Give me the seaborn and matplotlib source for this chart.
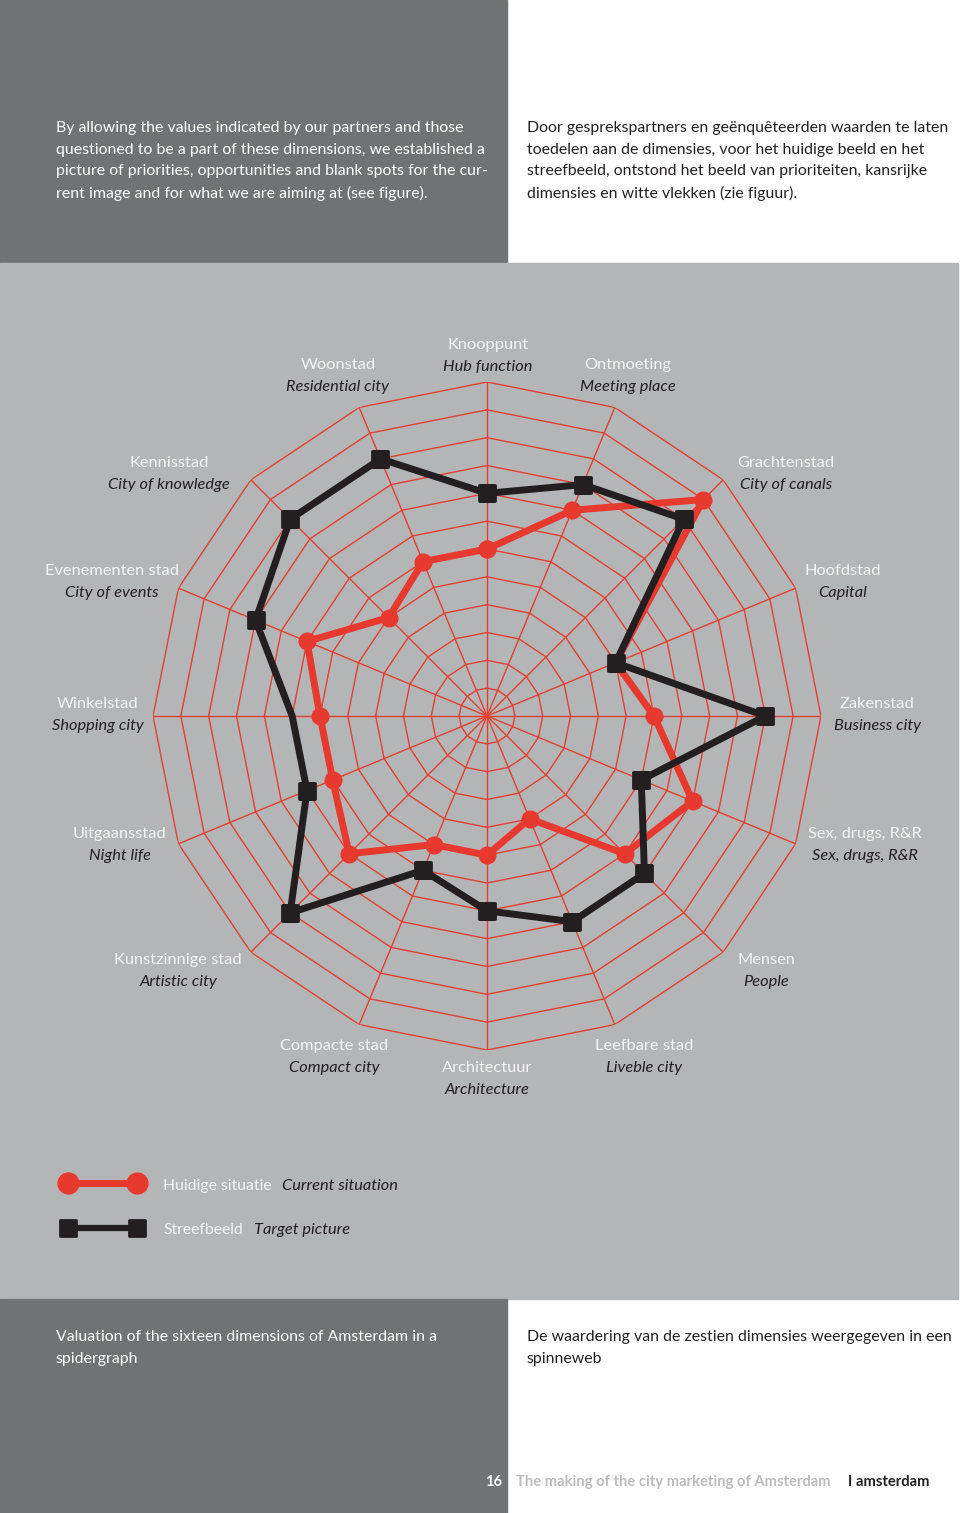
import numpy as np
import pandas as pd
import matplotlib
matplotlib.use('Agg')
import matplotlib.pyplot as plt
from matplotlib.patches import Rectangle
from matplotlib.markers import MarkerStyle
import seaborn as sns

# dimensions, clockwise from the top
dims_nl = ['Knooppunt', 'Ontmoeting', 'Grachtenstad', 'Hoofdstad', 'Zakenstad',
           'Sex, drugs, R&R', 'Mensen', 'Leefbare stad', 'Architectuur',
           'Compacte stad', 'Kunstzinnige stad', 'Uitgaansstad', 'Winkelstad',
           'Evenementen stad', 'Kennisstad', 'Woonstad']
dims_en = ['Hub function', 'Meeting place', 'City of canals', 'Capital',
           'Business city', 'Sex, drugs, R&R', 'People', 'Liveble city',
           'Architecture', 'Compact city', 'Artistic city', 'Night life',
           'Shopping city', 'City of events', 'City of knowledge',
           'Residential city']
current = [6, 8, 11, 5, 6, 8, 7, 4, 5, 5, 7, 6, 6, 7, 5, 6]
target = [8, 9, 10, 5, 10, 6, 8, 8, 7, 6, 10, 7, 7, 9, 10, 10]
n_rings = 12

# label centres in pixels (x, y of first line)
label_pos = [(488, 345), (628, 365), (786, 463), (843, 571), (877, 704),
             (865, 834), (766, 960), (644, 1046), (487, 1068), (334, 1046),
             (178, 960), (120, 834), (98, 704), (112, 571), (169, 463),
             (338, 365)]

intro_en = ['By allowing the values indicated by our partners and those',
            'questioned to be a part of these dimensions, we established a',
            'picture of priorities, opportunities and blank spots for the cur-',
            'rent image and for what we are aiming at (see figure).']
intro_nl = ['Door gesprekspartners en geënquêteerden waarden te laten',
            'toedelen aan de dimensies, voor het huidige beeld en het',
            'streefbeeld, ontstond het beeld van prioriteiten, kansrijke',
            'dimensies en witte vlekken (zie figuur).']
caption_en = ['Valuation of the sixteen dimensions of Amsterdam in a', 'spidergraph']
caption_nl = ['De waardering van de zestien dimensies weergegeven in een', 'spinneweb']

DARK = '#717276'
LIGHT = '#b4b5b7'
RED = '#e8392f'
GRID = '#e2402f'
BLACK = '#231f20'

sns.set_style('white')
plt.rcParams['font.family'] = ['Lato', 'DejaVu Sans']

W, H = 960, 1513
fig = plt.figure(figsize=(W / 100, H / 100), dpi=100)

# page background / text layer in pixel coordinates
bg = fig.add_axes([0, 0, 1, 1])
bg.set_xlim(0, W)
bg.set_ylim(H, 0)
bg.axis('off')
bg.add_patch(Rectangle((0, 0), W, H, color='white', zorder=0))
bg.add_patch(Rectangle((0, 0), 507, 263, color=DARK, zorder=1))
bg.add_patch(Rectangle((0, 263), 958, 1036, color=LIGHT, zorder=1))
bg.add_patch(Rectangle((0, 1299), 507, 214, color=DARK, zorder=1))

body = 11.45
for i, line in enumerate(intro_en):
    bg.text(56, 128 + i * 21.7, line, color='white', fontsize=body,
            va='center', ha='left')
for i, line in enumerate(intro_nl):
    bg.text(527, 128 + i * 21.7, line, color=BLACK, fontsize=body,
            va='center', ha='left')
for i, line in enumerate(caption_en):
    bg.text(56, 1337 + i * 21.7, line, color='white', fontsize=body,
            va='center', ha='left')
for i, line in enumerate(caption_nl):
    bg.text(527, 1337 + i * 21.7, line, color=BLACK, fontsize=body,
            va='center', ha='left')

lab = 11.8
for (x, y), nl, en in zip(label_pos, dims_nl, dims_en):
    bg.text(x, y, nl, color='#f4f4f4', fontsize=lab, ha='center', va='center')
    bg.text(x, y + 22, en, color=BLACK, fontsize=lab, style='italic',
            ha='center', va='center')

# legend
leg = 11.3
bg.plot([68, 137], [1183, 1183], color=RED, lw=5, marker='o', ms=15,
        solid_capstyle='butt', zorder=3)
bg.plot([68, 137], [1228, 1228], color=BLACK, lw=4.5,
        marker=MarkerStyle('s', joinstyle='round'), ms=12, mew=2,
        solid_capstyle='butt', zorder=3)
bg.text(163, 1186, 'Huidige situatie', color='#f4f4f4', fontsize=leg, va='center')
bg.text(282, 1186, 'Current situation', color=BLACK, fontsize=lab,
        style='italic', va='center')
bg.text(163, 1230, 'Streefbeeld', color='#f4f4f4', fontsize=leg, va='center')
bg.text(254, 1230, 'Target picture', color=BLACK, fontsize=lab,
        style='italic', va='center')

# footer
foot = 10.6
bg.text(502, 1482, '16', color='white', fontsize=foot, weight='bold',
        ha='right', va='center')
bg.text(516, 1482, 'The making of the city marketing of Amsterdam',
        color='#bdbdbf', fontsize=foot, weight='bold', ha='left', va='center')
bg.text(848, 1482, 'I amsterdam', color=BLACK, fontsize=foot,
        weight='bold', ha='left', va='center')

# spider chart
cx, cy, rad = 487, 716, 334
ax = fig.add_axes([(cx - rad) / W, 1 - (cy + rad) / H, 2 * rad / W, 2 * rad / H],
                  projection='polar')
ax.set_facecolor('none')
ax.set_theta_zero_location('N')
ax.set_theta_direction(-1)
ax.set_ylim(0, n_rings)
ax.grid(False)
ax.spines['polar'].set_visible(False)

theta = np.linspace(0, 2 * np.pi, len(dims_nl), endpoint=False)
theta_c = np.append(theta, theta[0])

for t in theta:
    ax.plot([t, t], [0, n_rings], color=GRID, lw=1.0, zorder=1)
for r in range(1, n_rings + 1):
    ax.plot(theta_c, [r] * len(theta_c), color=GRID, lw=1.0, zorder=1)

df_cur = pd.DataFrame({'theta': theta_c, 'value': current + current[:1]})
df_tgt = pd.DataFrame({'theta': theta_c, 'value': target + target[:1]})

sns.lineplot(data=df_cur, x='theta', y='value', sort=False, estimator=None,
             ax=ax, color=RED, lw=5, marker='o', ms=13, mec=RED, mew=0,
             zorder=3)
tgt_marks = [i for i in range(len(dims_nl)) if dims_nl[i] != 'Winkelstad']
sns.lineplot(data=df_tgt, x='theta', y='value', sort=False, estimator=None,
             ax=ax, color=BLACK, lw=5, marker=MarkerStyle('s', joinstyle='round'),
             ms=12, mec=BLACK, mew=2, markevery=tgt_marks, zorder=4)
ax.set_xlabel('')
ax.set_ylabel('')
ax.set_xticks([])
ax.set_yticks([])
ax.set_ylim(0, n_rings)

fig.savefig('out.png', dpi=100)
